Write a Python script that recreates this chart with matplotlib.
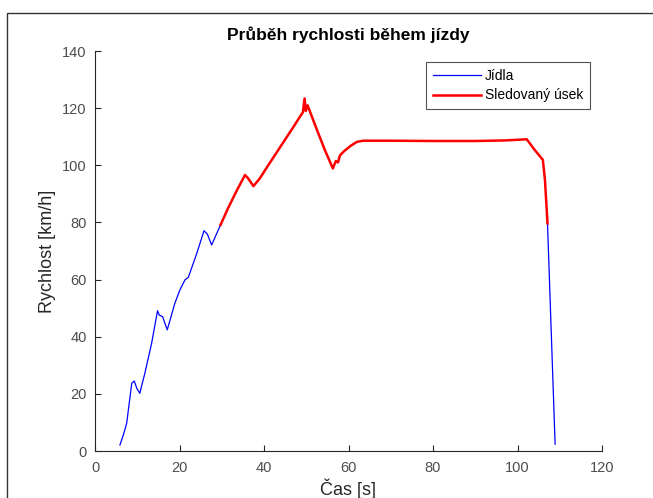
import matplotlib
matplotlib.use("Agg")
import matplotlib.pyplot as plt
from matplotlib.patches import Rectangle

plt.rcParams['font.family'] = ['Liberation Sans', 'DejaVu Sans']

# Blue series ("Jídla")
blue_x1 = [5.9, 6.7, 7.5, 8.7, 9.3, 9.9, 10.6, 11.8, 13.4, 14.8, 15.2, 16.0, 17.1,
           18.9, 20.1, 21.3, 22.1, 24.1, 25.8, 26.6, 27.6, 29.7]
blue_y1 = [2.1, 5.6, 9.7, 23.7, 24.5, 21.9, 20.2, 27.2, 37.7, 49.1, 47.6, 47.0, 42.4,
           51.7, 56.4, 59.9, 60.8, 69.2, 77.1, 75.9, 72.1, 79.1]
blue_x2 = [107.1, 108.9]
blue_y2 = [79.7, 2.4]

# Red series ("Sledovaný úsek")
red_x = [29.7, 31.5, 33.5, 35.5, 36.2, 37.5, 39.0, 41.0, 43.0, 45.0, 47.0, 48.5,
         49.2, 49.6, 49.9, 50.3, 50.6, 52.5, 54.5, 56.3, 57.0, 57.5, 58.0, 59.0,
         60.5, 62.0, 63.5, 70.0, 80.0, 90.0, 97.0, 102.2, 104.0, 106.0, 106.5, 107.1]
red_y = [79.1, 85.0, 91.0, 96.6, 95.5, 92.7, 95.4, 100.0, 104.5, 109.0, 113.5, 117.0,
         118.5, 123.4, 119.0, 121.0, 119.9, 112.5, 105.0, 98.9, 101.5, 101.0, 103.5, 105.0,
         106.8, 108.2, 108.6, 108.6, 108.5, 108.5, 108.7, 109.1, 105.5, 101.9, 94.9, 79.7]

title = "Průběh rychlosti během jízdy"
xlabel = "Čas [s]"
ylabel = "Rychlost [km/h]"
legend_labels = ["Jídla", "Sledovaný úsek"]

fig = plt.figure(figsize=(6.53, 4.98), dpi=100)
W, H = 653, 498
ax = fig.add_axes([95 / W, 1 - 451 / H, (602 - 95) / W, (451 - 51) / H])

l1, = ax.plot(blue_x1, blue_y1, color='#0000ff', lw=0.9)
ax.plot(blue_x2, blue_y2, color='#0000ff', lw=0.9)
l2, = ax.plot(red_x, red_y, color='#ff0000', lw=1.8)

ax.set_xlim(0, 120)
ax.set_ylim(0, 140)
ax.set_xticks(range(0, 121, 20))
ax.set_yticks(range(0, 141, 20))
for s in ['top', 'right']:
    ax.spines[s].set_visible(False)
for s in ['left', 'bottom']:
    ax.spines[s].set_color('#262626')
    ax.spines[s].set_linewidth(0.8)
ax.tick_params(direction='in', length=4, width=0.8, colors='#262626',
               labelsize=10.5, labelcolor='#4d4d4d')
ax.tick_params(axis='x', pad=7)
ax.tick_params(axis='y', pad=6)

ax.set_title(title, fontsize=12.5, fontweight='bold', pad=8)
ax.set_xlabel(xlabel, fontsize=13, color='#262626', labelpad=3)
ax.set_ylabel(ylabel, fontsize=13, color='#262626', labelpad=4)

leg = ax.legend([l1, l2], legend_labels, loc='upper right',
                bbox_to_anchor=(590 / W, 1 - 62 / H), bbox_transform=fig.transFigure,
                fontsize=10, frameon=True, fancybox=False, handlelength=3.4,
                borderpad=0.5, labelspacing=0.4, handletextpad=0.3, borderaxespad=0)
leg.get_frame().set_edgecolor('#262626')
leg.get_frame().set_linewidth(0.8)

fig.patches.append(Rectangle((7 / W, -0.1), 1.2, 1 - 13 / H + 0.1,
                             transform=fig.transFigure, fill=False,
                             edgecolor='#333333', lw=1.0))

fig.savefig("out.png", dpi=100)
